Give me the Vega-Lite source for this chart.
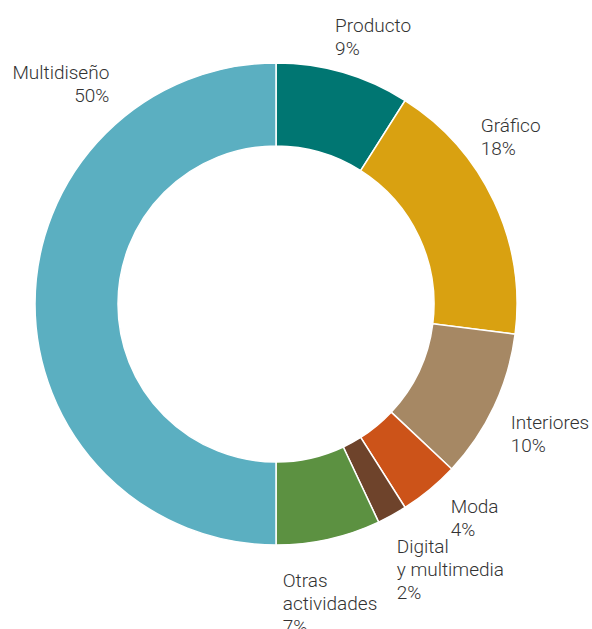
{
  "$schema": "https://vega.github.io/schema/vega-lite/v6.json",
  "width": 552,
  "height": 608,
  "autosize": "none",
  "padding": {"left": 0, "top": 0, "right": 40, "bottom": 21},
  "background": "white",
  "view": {"stroke": null},
  "data": {
    "values": [
      {"orden": 1, "categoria": "Producto", "etiqueta": "Producto\n9%", "pct": 9},
      {"orden": 2, "categoria": "Gráfico", "etiqueta": "Gráfico\n18%", "pct": 18},
      {"orden": 3, "categoria": "Interiores", "etiqueta": "Interiores\n10%", "pct": 10},
      {"orden": 4, "categoria": "Moda", "etiqueta": "Moda\n4%", "pct": 4},
      {"orden": 5, "categoria": "Digital y multimedia", "etiqueta": "Digital\ny multimedia\n2%", "pct": 2},
      {"orden": 6, "categoria": "Otras actividades", "etiqueta": "Otras\nactividades\n7%", "pct": 7},
      {"orden": 7, "categoria": "Multidiseño", "etiqueta": "Multidiseño\n50%", "pct": 50}
    ]
  },
  "encoding": {
    "theta": {"field": "pct", "type": "quantitative", "stack": true},
    "order": {"field": "orden", "type": "quantitative"}
  },
  "layer": [
    {
      "mark": {"type": "arc", "outerRadius": 241, "innerRadius": 158, "stroke": "white", "strokeWidth": 1.5},
      "encoding": {
        "color": {
          "field": "categoria",
          "type": "nominal",
          "scale": {
            "domain": ["Producto", "Gráfico", "Interiores", "Moda", "Digital y multimedia", "Otras actividades", "Multidiseño"],
            "range": ["#007672", "#D9A111", "#A68864", "#CC5319", "#6E432B", "#5C9141", "#5BAFC1"]
          },
          "legend": null
        }
      }
    },
    {
      "mark": {
        "type": "text",
        "radius": 262,
        "font": "Roboto",
        "fontWeight": 300,
        "fontSize": 19,
        "lineBreak": "\n",
        "lineHeight": 23,
        "baseline": "alphabetic",
        "fill": "#333333",
        "align": {"expr": "datum.orden == 7 ? 'right' : 'left'"},
        "dx": {"expr": "[-14, -32.4, -2.4, 7.7, -5.5, -50.4, 95.3][datum.orden - 1]"},
        "dy": {"expr": "[-20.7, -60.7, 13.9, 7.4, 19.1, 27.6, -224.7][datum.orden - 1]"}
      },
      "encoding": {"text": {"field": "etiqueta"}}
    }
  ]
}
